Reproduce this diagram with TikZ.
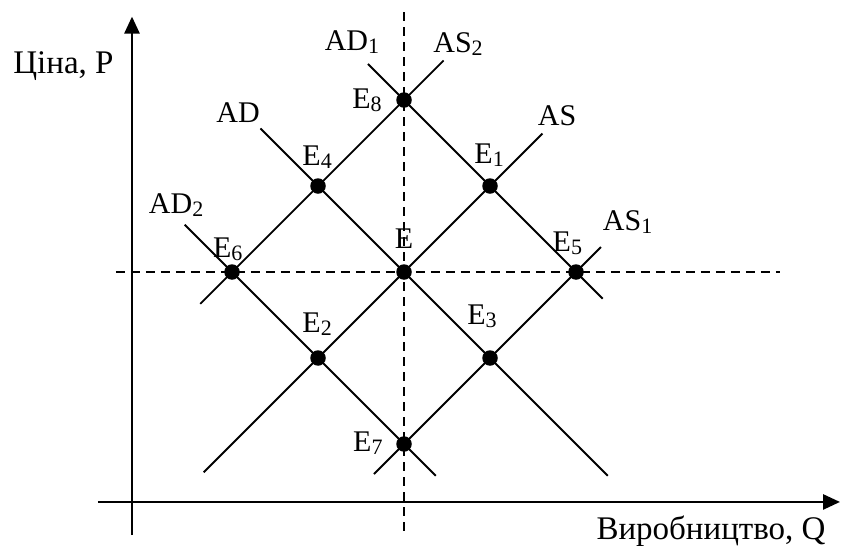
\documentclass[tikz,border=0pt]{standalone}
\usepackage{fontspec}
\setmainfont{Liberation Serif}
\usetikzlibrary{arrows.meta}
\newcommand{\low}[1]{\raisebox{-3pt}{\fontsize{22}{22}\selectfont #1}}
\tikzset{
  dot/.style={circle,fill=black,inner sep=0pt,minimum size=15.5pt},
  curve/.style={line width=1.8pt},
  guide/.style={line width=1.8pt,dash pattern=on 9pt off 6pt},
  axis/.style={line width=2.7pt,-{Triangle[length=17pt,width=15pt]}},
  tag/.style={anchor=base,inner sep=0pt},
  axisname/.style={tag,font=\fontsize{33}{40}\selectfont}
}

\begin{document}
\begin{tikzpicture}[x=86pt,y=86pt,font=\fontsize{30}{36}\selectfont]
    \useasboundingbox (-4.698,-3.186) rectangle (5.093,3.163);
    % axes
    \coordinate (q0) at (-3.56,-2.674);
    \coordinate (q1) at (5.07,-2.674);
    \coordinate (p0) at (-3.163,-3.06);
    \coordinate (p1) at (-3.163,2.97);
    \draw[axis] (q0) -- (q1);
    \draw[axis] (p0) -- (p1);
    \node[axisname] (pname) at (-3.96,2.314) {Ціна, P};
    \node[axisname] (qname) at (3.57,-3.116) {Виробництво, Q};
    % dashed guides through E
    \coordinate (h0) at (-3.35,0);
    \coordinate (h1) at (4.37,0);
    \coordinate (v0) at (0,3.02);
    \coordinate (v1) at (0,-3.02);
    \draw[guide] (h0) -- (h1);
    \draw[guide] (v0) -- (v1);
    % demand
    \coordinate (ad-a) at (-1.67,1.67);
    \coordinate (ad-b) at (2.37,-2.37);
    \coordinate (ad1-a) at (-0.42,2.42);
    \coordinate (ad1-b) at (2.31,-0.31);
    \coordinate (ad2-a) at (-2.55,0.55);
    \coordinate (ad2-b) at (0.37,-2.37);
    \draw[curve] (ad-a) -- (ad-b);
    \draw[curve] (ad1-a) -- (ad1-b);
    \draw[curve] (ad2-a) -- (ad2-b);
    % supply
    \coordinate (as-a) at (-2.33,-2.33);
    \coordinate (as-b) at (1.61,1.61);
    \coordinate (as1-a) at (-0.35,-2.35);
    \coordinate (as1-b) at (2.29,0.29);
    \coordinate (as2-a) at (-2.37,-0.37);
    \coordinate (as2-b) at (0.46,2.46);
    \draw[curve] (as-a) -- (as-b);
    \draw[curve] (as1-a) -- (as1-b);
    \draw[curve] (as2-a) -- (as2-b);
    \node[tag] (ad) at (-1.93,1.744) {AD};
    \node[tag] (ad1) at (-0.605,2.58) {AD\low{1}};
    \node[tag] (ad2) at (-2.65,0.686) {AD\low{2}};
    \node[tag] (as) at (1.78,1.709) {AS};
    \node[tag] (as1) at (2.6,0.488) {AS\low{1}};
    \node[tag] (as2) at (0.628,2.558) {AS\low{2}};
    % equilibria
    \node[dot] (e) at (0,0) {};
    \node[dot] (e1) at (1,1) {};
    \node[dot] (e2) at (-1,-1) {};
    \node[dot] (e3) at (1,-1) {};
    \node[dot] (e4) at (-1,1) {};
    \node[dot] (e5) at (2,0) {};
    \node[dot] (e6) at (-2,0) {};
    \node[dot] (e7) at (0,-2) {};
    \node[dot] (e8) at (0,2) {};
    \node[tag] (e-t) at (0,0.279) {E};
    \node[tag] (e1-t) at (0.99,1.267) {E\low{1}};
    \node[tag] (e2-t) at (-1.01,-0.698) {E\low{2}};
    \node[tag] (e3-t) at (0.907,-0.616) {E\low{3}};
    \node[tag] (e4-t) at (-1.01,1.244) {E\low{4}};
    \node[tag] (e5-t) at (1.9,0.233) {E\low{5}};
    \node[tag] (e6-t) at (-2.05,0.174) {E\low{6}};
    \node[tag] (e7-t) at (-0.42,-2.093) {E\low{7}};
    \node[tag] (e8-t) at (-0.43,1.907) {E\low{8}};
\end{tikzpicture}
\end{document}
